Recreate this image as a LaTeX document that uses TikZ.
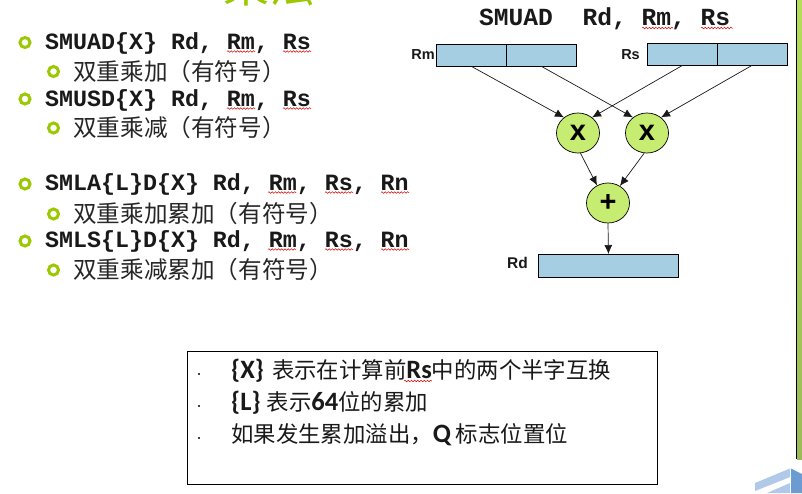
\documentclass[tikz,border=0pt]{standalone}
\usepackage{fontspec}
\usetikzlibrary{arrows.meta,decorations.pathmorphing,shapes.geometric}
\setmainfont{Liberation Sans}
\newfontfamily\cjk{Noto Sans CJK SC}
\newfontfamily\monob{Liberation Mono Bold}
\newfontfamily\carl{Carlito Bold}
\newfontfamily\arialb{Liberation Sans Bold}
\newcommand{\cb}[1]{{\carl\fontsize{26.5}{24}\selectfont #1}}
\definecolor{lime}{HTML}{9BC800}
\definecolor{regfill}{HTML}{A6CEE3}
\definecolor{opfill}{HTML}{C6EC72}
\definecolor{striptop}{HTML}{B5DE5A}
\definecolor{stripbot}{HTML}{9BBB59}
\definecolor{logolight}{HTML}{B0C9E8}
\definecolor{logodark}{HTML}{6C9BD2}
\tikzset{
  x=1pt,y=-1pt,
  instr/.style={anchor=base west,inner sep=0pt,font=\monob\fontsize{23.3}{24}\selectfont,text=black!90},
  desc/.style={anchor=base west,inner sep=0pt,font=\cjk\fontsize{23.6}{24}\selectfont,text=black!85},
  note/.style={anchor=base west,inner sep=0pt,font=\cjk\fontsize{22.4}{24}\selectfont,text=black!90},
  bulleta/.style={circle,draw=lime,line width=3pt,minimum size=10pt,inner sep=0pt},
  dotb/.style={circle,fill=black,minimum size=2.4pt,inner sep=0pt},
  reg/.style={draw=black,line width=0.9pt,fill=regfill,inner sep=0pt,minimum height=22pt},
  regh/.style={reg,minimum width=70pt},
  op/.style={ellipse,draw=black,line width=0.7pt,fill=opfill,minimum width=43pt,minimum height=40pt,inner sep=0pt,font=\arialb\fontsize{29}{24}\selectfont},
  lab/.style={inner sep=0pt,font=\arialb\fontsize{14.5}{16}\selectfont,text=black!90},
  arr/.style={draw=black!90,line width=0.7pt,-{Latex[length=9pt,width=8pt]}},
  wavy/.style={draw=red!85!black,line width=0.5pt,decorate,decoration={snake,amplitude=0.8pt,segment length=3.2pt}}
}
\begin{document}
\begin{tikzpicture}
\useasboundingbox (0,0) rectangle (802,493);
\clip (0,0) rectangle (802,493);
\fill[white] (0,0) rectangle (802,493);
% title
\node[anchor=base,inner sep=0pt,text=lime,font=\cjk\fontsize{46}{46}\selectfont] (title) at (269,2) {乘法};
% list
\node[bulleta] (b1) at (25,42.5) {};
\node[instr] (t1) at (45,49) {SMUAD\{X\} Rd, Rm, Rs};
\node[bulleta] (b2) at (53.5,71.5) {};
\node[desc] (t2) at (73,80) {双重乘加（有符号）};
\node[bulleta] (b3) at (25,99) {};
\node[instr] (t3) at (45,106) {SMUSD\{X\} Rd, Rm, Rs};
\node[bulleta] (b4) at (53.5,128) {};
\node[desc] (t4) at (73,136) {双重乘减（有符号）};
\node[bulleta] (b5) at (25,184) {};
\node[instr] (t5) at (45,190.5) {SMLA\{L\}D\{X\} Rd, Rm, Rs, Rn};
\node[bulleta] (b6) at (53.5,214) {};
\node[desc] (t6) at (73,222) {双重乘加累加（有符号）};
\node[bulleta] (b7) at (25,241) {};
\node[instr] (t7) at (45,247) {SMLS\{L\}D\{X\} Rd, Rm, Rs, Rn};
\node[bulleta] (b8) at (53.5,270) {};
\node[desc] (t8) at (73,278) {双重乘减累加（有符号）};
% spell-check underlines
\foreach \a/\b/\c in {227/255/51.5,283/311/51.5,227/255/108.5,283/311/108.5,
  268/296/192.5,325/353/192.5,381/409/192.5,268/296/249.5,325/353/249.5,381/409/249.5,
  642/673/28,701/733/28}
  \draw[wavy] (\a,\c) -- (\b,\c);
% heading
\node[anchor=base west,inner sep=0pt,text=black!90,font=\monob\fontsize{24.6}{24}\selectfont] (head) at (479,25) {SMUAD\ \ Rd, Rm, Rs};
% registers
\node[regh,anchor=north west] (rml) at (436,43.5) {};
\node[regh,anchor=north west] (rmr) at (506,43.5) {};
\node[regh,anchor=north west] (rsl) at (647,42.5) {};
\node[regh,anchor=north west] (rsr) at (716.5,42.5) {};
\node[lab,anchor=east] (lrm) at (435,55) {Rm};
\node[lab,anchor=east] (lrs) at (640,55) {Rs};
\node[reg,minimum width=140pt,minimum height=23pt,anchor=north west] (rd) at (538,254) {};
\node[lab,anchor=east,font=\arialb\fontsize{15.5}{16}\selectfont] (lrd) at (528,263) {Rd};
% operators
\node[op] (x1) at (578,133) {x};
\node[op] (x2) at (647,133) {x};
\node[op] (pl) at (608,203) {+};
% connectors
\draw[arr] (rml.south) -- (x1.132);
\draw[arr] (rmr.south) -- (x2.132);
\draw[arr] (rsl.south) -- (x1.48);
\draw[arr] (rsr.south) -- (x2.48);
\draw[arr] (x1.277) -- (pl.122);
\draw[arr] (x2.262) -- (pl.55);
\draw[arr] (pl.south) -- (rd.north);
% note box
\node[draw=black,line width=0.9pt,fill=white,minimum width=469.5pt,minimum height=133pt,anchor=north west,inner sep=0pt] (box) at (187.3,351.3) {};
\node[dotb] (d1) at (199,374) {};
\node[dotb] (d2) at (199,406) {};
\node[dotb] (d3) at (199,438) {};
\node[note] (n1) at (231,378) {\cb{\{X\}}\hspace{8pt}表示在计算前\cb{Rs}中的两个半字互换};
\node[note] (n2) at (231,410) {\cb{\{L\}}\hspace{6pt}表示\cb{64}位的累加};
\node[note] (n3) at (231,442) {如果发生累加溢出，\cb{Q}\hspace{5pt}标志位置位};
\draw[wavy] (404,381) -- (432,381);
% right strip and logo
\shade[top color=striptop,bottom color=stripbot] (797,0) rectangle (802,459);
\draw[black,line width=1pt] (796.5,0) -- (796.5,459);
\fill[logolight] (755,483) -- (790,468.5) -- (790,477) -- (755,491) -- cycle;
\fill[logolight] (767,493) -- (790,483) -- (790,493) -- cycle;
\fill[logodark] (791,468.5) -- (802,474) -- (802,493) -- (791,493) -- cycle;
\end{tikzpicture}
\end{document}
